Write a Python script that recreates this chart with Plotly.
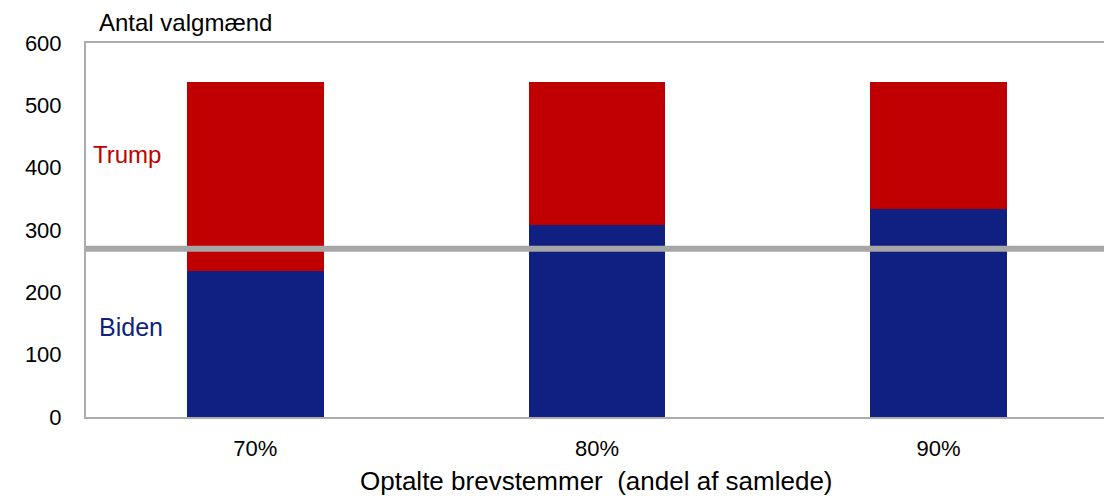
import plotly.graph_objects as go

# Scenarier: andel af brevstemmer der er optalt
categories = ["70%", "80%", "90%"]
biden = [234, 308, 334]
trump = [304, 230, 204]
majority = 270  # flertal i valgmandskollegiet

y_ticks = [0, 100, 200, 300, 400, 500, 600]

RED = "#C00000"
BLUE = "#0F1F82"
GRAY = "#A6A6A6"
FONT = "Liberation Sans, Arial, sans-serif"

fig = go.Figure()
fig.add_trace(go.Bar(x=categories, y=biden, name="Biden",
                     marker=dict(color=BLUE, line=dict(width=0))))
fig.add_trace(go.Bar(x=categories, y=trump, name="Trump",
                     marker=dict(color=RED, line=dict(width=0))))

# Vandret linje ved 270 valgmænd
fig.add_shape(type="line", xref="paper", x0=0, x1=1, yref="y",
              y0=majority, y1=majority, line=dict(color=GRAY, width=6),
              layer="above")

fig.add_annotation(text="Trump", xref="paper", x=0.005, xanchor="left",
                   yref="y", y=421, showarrow=False,
                   font=dict(color=RED, size=24, family=FONT))
fig.add_annotation(text="Biden", xref="paper", x=0.011, xanchor="left",
                   yref="y", y=145, showarrow=False,
                   font=dict(color=BLUE, size=25, family=FONT))
fig.add_annotation(text="Antal valgmænd", xref="paper", x=0.011,
                   xanchor="left", yref="paper", y=1.056, yanchor="middle",
                   showarrow=False,
                   font=dict(color="#000000", size=24, family=FONT))
# Titel på x-aksen
fig.add_annotation(text="Optalte brevstemmer  (andel af samlede)",
                   xref="x", x=1, xanchor="center",
                   yref="paper", y=-0.172, yanchor="middle",
                   showarrow=False,
                   font=dict(color="#000000", size=26, family=FONT))

fig.update_layout(
    width=1104, height=498,
    barmode="stack", bargap=0.6,
    showlegend=False,
    plot_bgcolor="white", paper_bgcolor="white",
    margin=dict(l=86, r=0, t=43, b=81),
    font=dict(family=FONT, color="#000000", size=22),
)
fig.update_xaxes(
    range=[-0.4955, 2.484],
    showline=True, linecolor="#ACACAC", linewidth=2, mirror=True,
    ticks="", ticklabelstandoff=11,
    tickfont=dict(size=22),
    showgrid=False, zeroline=False,
)
fig.update_yaxes(
    range=[0, 600], tickvals=y_ticks, ticktext=[str(v) for v in y_ticks],
    showline=True, linecolor="#ACACAC", linewidth=2,
    ticks="", ticklabelstandoff=18,
    tickfont=dict(size=22),
    showgrid=False, zeroline=False,
)

fig.write_html("out.html")
